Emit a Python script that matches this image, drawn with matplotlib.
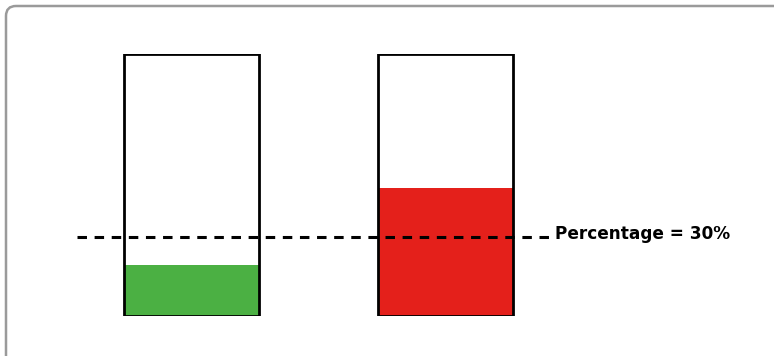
import matplotlib.pyplot as plt
from matplotlib.patches import FancyBboxPatch
from matplotlib.transforms import IdentityTransform

# data
groups = ['A', 'B']
fill_values = [19.5, 49]
fill_colors = ['#4BB043', '#E4201B']
threshold = 30
threshold_label = 'Percentage = 30%'

fig = plt.figure(figsize=(7.74, 3.56), dpi=100)

# rounded frame in pixel units, cut off at right and bottom like the reference
frame = FancyBboxPatch((6, -30), 900, 356 - 6 + 30,
                       boxstyle='round,pad=0,rounding_size=10',
                       transform=IdentityTransform(), facecolor='none',
                       edgecolor='#9a9a9a', linewidth=1.8, zorder=0)
fig.patches.append(frame)

ax = fig.add_axes([0, 40 / 356, 1, 262 / 356])
ax.set_zorder(2)
ax.set_facecolor('none')
x = list(range(len(groups)))
width = 0.531

ax.bar(x, fill_values, width=width, color=fill_colors, zorder=2)
ax.bar(x, [100] * len(groups), width=width, fill=False,
       edgecolor='black', linewidth=2.0, zorder=3)

ax.hlines(threshold, -0.451, 1.411, colors='black', linewidth=2.2,
          linestyles=(0, (3.1, 2.5)), zorder=4)
ax.text(1.431, threshold + 1.2, threshold_label, fontsize=12.2,
        fontweight='bold', va='center', ha='left')

ax.set_xlim(-191.5 / 254, (774 - 191.5) / 254)
ax.set_ylim(0, 100)
ax.axis('off')

fig.savefig('out.png', dpi=100)
